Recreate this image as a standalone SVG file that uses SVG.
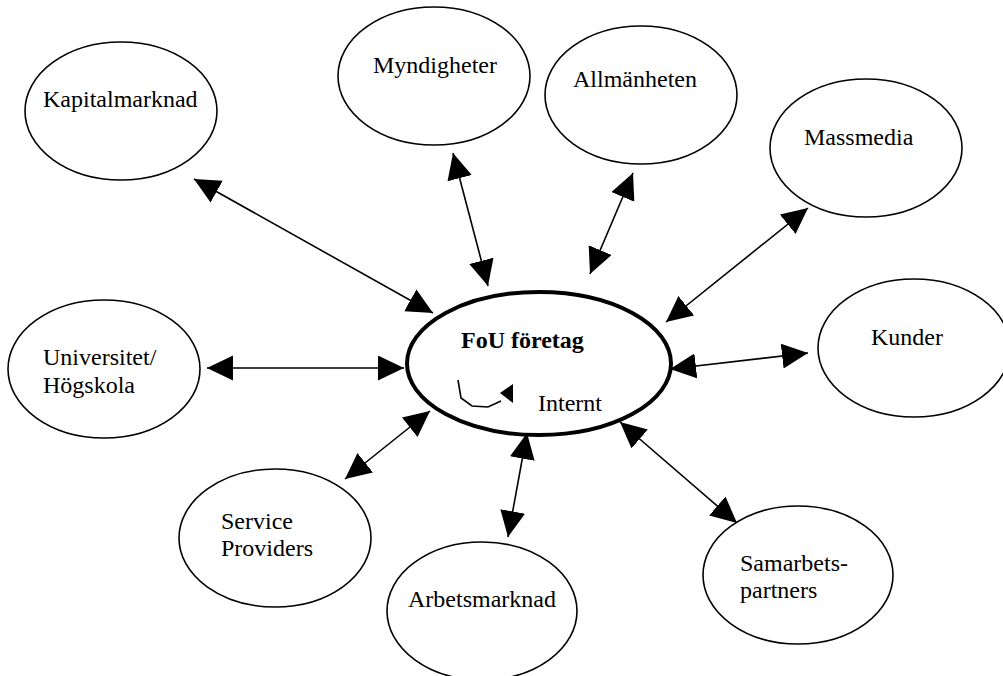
<svg xmlns="http://www.w3.org/2000/svg" width="1003" height="676" viewBox="0 0 1003 676">
  <style>
    .node { fill: #ffffff; stroke: #000000; stroke-width: 1.6; }
    .hub { fill: #ffffff; stroke: #000000; stroke-width: 4; }
    .lbl { font-family: "Liberation Serif", "Times New Roman", serif; font-size: 24px; fill: #000000; }
    .bold { font-weight: bold; }
    .link { stroke: #000000; stroke-width: 1.6; fill: none; marker-start: url(#head); marker-end: url(#head); }
  </style>
  <defs>
    <marker id="head" markerUnits="userSpaceOnUse" markerWidth="27" markerHeight="26" refX="26" refY="12.5" orient="auto-start-reverse">
      <path d="M0,0 L26,12.5 L0,25 z" fill="#000000"/>
    </marker>
  </defs>
  <rect width="1003" height="676" fill="#ffffff"/>

  <!-- two-way links between the company and its surroundings -->
  <g id="connectors">
    <line class="link" x1="194" y1="179" x2="433" y2="313"/>
    <line class="link" x1="453" y1="153" x2="488" y2="286"/>
    <line class="link" x1="633" y1="173" x2="590" y2="274"/>
    <line class="link" x1="808" y1="208" x2="666" y2="322"/>
    <line class="link" x1="670" y1="369" x2="808" y2="353"/>
    <line class="link" x1="207" y1="368" x2="404" y2="368"/>
    <line class="link" x1="345" y1="479" x2="430" y2="411"/>
    <line class="link" x1="527" y1="433" x2="508" y2="537"/>
    <line class="link" x1="620" y1="422" x2="737" y2="523"/>
  </g>

  <g id="kapitalmarknad">
    <ellipse class="node" cx="121" cy="111" rx="96" ry="69"/>
    <text class="lbl" x="43" y="107">Kapitalmarknad</text>
  </g>
  <g id="myndigheter">
    <ellipse class="node" cx="434" cy="76" rx="96" ry="69"/>
    <text class="lbl" x="373" y="73">Myndigheter</text>
  </g>
  <g id="allmanheten">
    <ellipse class="node" cx="641" cy="95" rx="96" ry="69"/>
    <text class="lbl" x="573" y="87">Allmänheten</text>
  </g>
  <g id="massmedia">
    <ellipse class="node" cx="866" cy="148" rx="96" ry="69"/>
    <text class="lbl" x="804" y="145">Massmedia</text>
  </g>
  <g id="kunder">
    <ellipse class="node" cx="914" cy="348" rx="96" ry="69"/>
    <text class="lbl" x="871" y="345">Kunder</text>
  </g>
  <g id="universitet">
    <ellipse class="node" cx="104" cy="369" rx="96" ry="69"/>
    <text class="lbl" x="43" y="365">Universitet/</text>
    <text class="lbl" x="43" y="393">Högskola</text>
  </g>
  <g id="service-providers">
    <ellipse class="node" cx="275" cy="538" rx="96" ry="69"/>
    <text class="lbl" x="221" y="529">Service</text>
    <text class="lbl" x="221" y="556">Providers</text>
  </g>
  <g id="arbetsmarknad">
    <ellipse class="node" cx="482" cy="611" rx="95" ry="69"/>
    <text class="lbl" x="408" y="607">Arbetsmarknad</text>
  </g>
  <g id="samarbetspartners">
    <ellipse class="node" cx="798" cy="575" rx="95" ry="69"/>
    <text class="lbl" x="740" y="571">Samarbets-</text>
    <text class="lbl" x="740" y="598">partners</text>
  </g>

  <g id="fou-foretag">
    <ellipse class="hub" cx="539" cy="363.5" rx="132" ry="71.5"/>
    <text class="lbl bold" x="461" y="348">FoU företag</text>
    <!-- internal loop arrow -->
    <polyline points="458,380 461,398 472,406 488,407 501,401" fill="none" stroke="#000000" stroke-width="1.6"/>
    <polygon points="513,384 500,393 513,403" fill="#000000"/>
    <text class="lbl" x="538" y="411">Internt</text>
  </g>
</svg>
